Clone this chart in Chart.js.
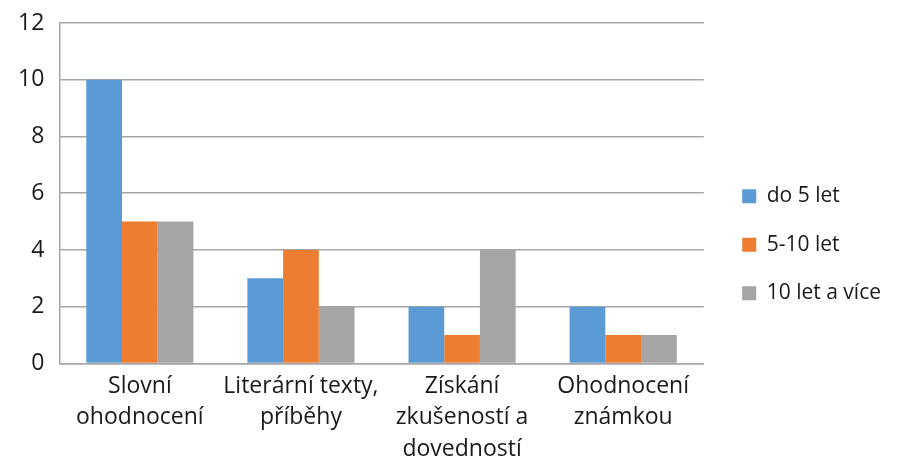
<!DOCTYPE html>
<html>
<head>
<meta charset="utf-8">
<script src="https://cdn.jsdelivr.net/npm/chart.js@4/dist/chart.umd.min.js"></script>
<style>
  html, body { margin: 0; padding: 0; background: #fff; }
  #wrap { width: 899px; height: 470px; }
</style>
</head>
<body>
<div id="wrap"><canvas id="hodnoceniChart"></canvas></div>
<script>
var categories = [
  ["Slovní", "ohodnocení"],
  ["Literární texty,", "příběhy"],
  ["Získání", "zkušeností a", "dovedností"],
  ["Ohodnocení", "známkou"]
];
var seriesNames = ["do 5 let", "5-10 let", "10 let a více"];
var do5 = [10, 3, 2, 2];
var od5do10 = [5, 4, 1, 1];
var nad10 = [5, 2, 4, 1];
var yTicks = [0, 2, 4, 6, 8, 10, 12];

var colors = ["#5B9BD5", "#ED7D31", "#A5A5A5"];
var font = "'Open Sans', Carlito, Lato, sans-serif";

Chart.defaults.font.family = font;
Chart.defaults.color = "#1a1a1a";

var chartData = {
  labels: categories,
  datasets: [
    { label: seriesNames[0], data: do5, backgroundColor: colors[0] },
    { label: seriesNames[1], data: od5do10, backgroundColor: colors[1] },
    { label: seriesNames[2], data: nad10, backgroundColor: colors[2] }
  ]
};

// wider legend box, items pushed right (gap between plot and legend)
var legendGap = {
  id: 'legendGap',
  beforeLayout: function (chart) {
    var lg = chart.legend;
    if (lg && !lg._widened) {
      var fit = lg.fit;
      lg.fit = function () { fit.call(this); this.width += 14; };
      lg._widened = true;
    }
  },
  afterLayout: function (chart) {
    var lg = chart.legend;
    if (lg) { lg.left += 11; lg.right += 11; }
  }
};

var ctx = document.getElementById("hodnoceniChart").getContext("2d");
new Chart(ctx, {
  type: 'bar',
  data: chartData,
  plugins: [legendGap],
  options: {
    responsive: true,
    maintainAspectRatio: false,
    animation: false,
    layout: { padding: { top: -4, right: 5, left: 3, bottom: -2 } },
    datasets: { bar: { categoryPercentage: 0.665, barPercentage: 1.0 } },
    plugins: {
      tooltip: { enabled: false },
      legend: {
        position: 'right',
        title: { display: true, text: ' ', padding: 0, font: { size: 18 } },
        labels: {
          boxWidth: 14,
          boxHeight: 14,
          padding: 27.5,
          font: { size: 21 }
        }
      }
    },
    scales: {
      x: {
        grid: { display: false, drawTicks: false },
        border: { color: "#A6A6A6", width: 1.5 },
        ticks: { font: { size: 23, lineHeight: 1.37 }, padding: 7, maxRotation: 0, autoSkip: false }
      },
      y: {
        min: 0,
        max: 12,
        afterBuildTicks: function (axis) {
          axis.ticks = yTicks.map(function (v) { return { value: v }; });
        },
        afterFit: function (axis) {
          axis.paddingTop = 23;
        },
        grid: { color: "#A6A6A6", lineWidth: 1.5, drawTicks: false },
        border: { color: "#A6A6A6", width: 1.5 },
        ticks: { font: { size: 23 }, padding: 15 }
      }
    }
  }
});
</script>
</body>
</html>
